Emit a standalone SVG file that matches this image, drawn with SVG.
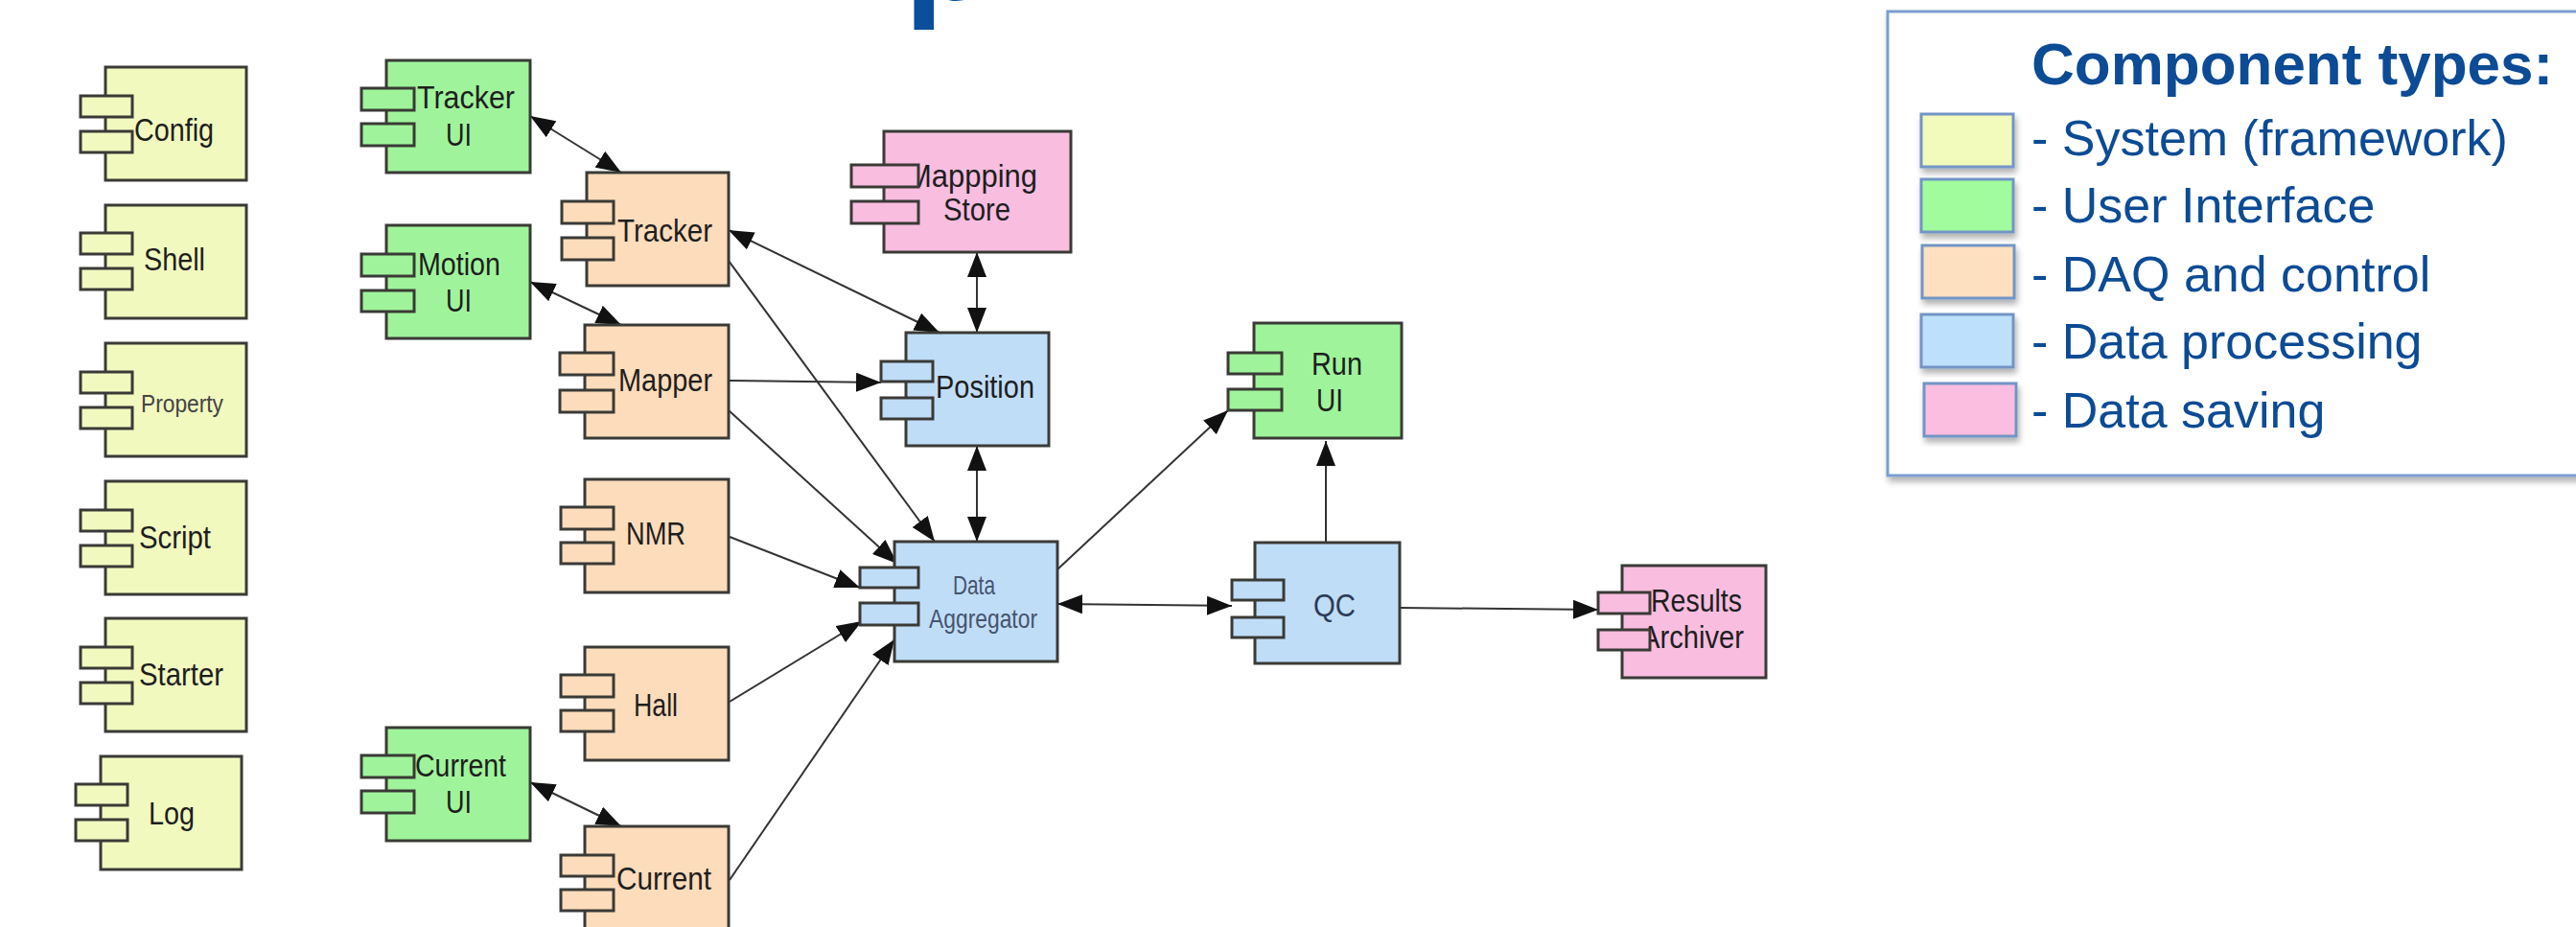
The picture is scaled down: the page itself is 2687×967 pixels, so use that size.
<svg xmlns="http://www.w3.org/2000/svg" width="2687" height="967" viewBox="0 0 2687 967">
<style>
.sys{fill:#f1f9bf}.ui{fill:#9ff49b}.daq{fill:#fcdcbb}.proc{fill:#c0ddf8}.save{fill:#f8bddf}
.b{stroke:#3a3a36;stroke-width:3}
.lbl{font-family:"Liberation Sans",Arial,sans-serif;font-size:34px;fill:#1e1e1e}
.con{stroke:#333;stroke-width:2;fill:none;marker-end:url(#ah)}
.bi{marker-start:url(#ah)}
.leg{font-family:"Liberation Sans",Arial,sans-serif;fill:#0c4b95}
.sw{stroke:#7295c6;stroke-width:3}
</style>
<defs>
<marker id="ah" viewBox="0 0 26 20" refX="26" refY="10" markerWidth="26" markerHeight="20" markerUnits="userSpaceOnUse" orient="auto-start-reverse">
<path d="M0,0 L26,10 L0,20 z" fill="#111"/>
</marker>
<filter id="sh" x="-5%" y="-5%" width="115%" height="125%">
<feDropShadow dx="2" dy="5" stdDeviation="3" flood-color="#000" flood-opacity="0.3"/>
</filter>
</defs>
<rect width="2687" height="967" fill="#fff"/>
<text id="title" x="943" y="0" font-family="Liberation Sans,Arial,sans-serif" font-weight="bold" font-size="150" fill="#0b4f9c">p</text>

<g id="connectors">
<line class="con bi" x1="553" y1="121" x2="648" y2="180"/>
<line class="con bi" x1="553" y1="294" x2="648" y2="339"/>
<line class="con bi" x1="553" y1="816" x2="648" y2="862"/>
<line class="con bi" x1="760" y1="240" x2="980" y2="347"/>
<line class="con" x1="760" y1="272" x2="975" y2="565"/>
<line class="con" x1="760" y1="397" x2="919" y2="399"/>
<line class="con" x1="760" y1="428" x2="936" y2="588"/>
<line class="con bi" x1="1019" y1="263" x2="1019" y2="347"/>
<line class="con bi" x1="1019" y1="465" x2="1019" y2="565"/>
<line class="con" x1="761" y1="560" x2="897" y2="613"/>
<line class="con" x1="761" y1="732" x2="899" y2="648"/>
<line class="con" x1="761" y1="918" x2="933" y2="667"/>
<line class="con" x1="1103" y1="594" x2="1281" y2="428"/>
<line class="con bi" x1="1103" y1="630" x2="1285" y2="632"/>
<line class="con" x1="1383" y1="568" x2="1383" y2="460"/>
<line class="con" x1="1460" y1="634" x2="1667" y2="636"/>
</g>

<g id="config"><rect class="sys b" x="110" y="70" width="147" height="118"/><text class="lbl" x="140" y="147" textLength="83" lengthAdjust="spacingAndGlyphs">Config</text><rect class="sys b" x="84" y="100" width="54" height="22"/><rect class="sys b" x="84" y="137" width="54" height="22"/></g>
<g id="shell"><rect class="sys b" x="110" y="214" width="147" height="118"/><text class="lbl" x="150" y="282" textLength="64" lengthAdjust="spacingAndGlyphs">Shell</text><rect class="sys b" x="84" y="243" width="54" height="22"/><rect class="sys b" x="84" y="280" width="54" height="22"/></g>
<g id="property"><rect class="sys b" x="110" y="358" width="147" height="118"/><text class="lbl" x="147" y="430" style="font-size:26px;fill:#444" textLength="86" lengthAdjust="spacingAndGlyphs">Property</text><rect class="sys b" x="84" y="388" width="54" height="22"/><rect class="sys b" x="84" y="425" width="54" height="22"/></g>
<g id="script"><rect class="sys b" x="110" y="502" width="147" height="118"/><text class="lbl" x="145" y="572" textLength="75" lengthAdjust="spacingAndGlyphs">Script</text><rect class="sys b" x="84" y="532" width="54" height="22"/><rect class="sys b" x="84" y="569" width="54" height="22"/></g>
<g id="starter"><rect class="sys b" x="110" y="645" width="147" height="118"/><text class="lbl" x="145" y="715" textLength="88" lengthAdjust="spacingAndGlyphs">Starter</text><rect class="sys b" x="84" y="675" width="54" height="22"/><rect class="sys b" x="84" y="712" width="54" height="22"/></g>
<g id="log"><rect class="sys b" x="105" y="789" width="147" height="118"/><text class="lbl" x="155" y="860" textLength="48" lengthAdjust="spacingAndGlyphs">Log</text><rect class="sys b" x="79" y="818" width="54" height="22"/><rect class="sys b" x="79" y="855" width="54" height="22"/></g>

<g id="tracker-ui"><rect class="ui b" x="403" y="63" width="150" height="117"/><text class="lbl" x="435" y="113" textLength="102" lengthAdjust="spacingAndGlyphs">Tracker</text><text class="lbl" x="465" y="152" textLength="27" lengthAdjust="spacingAndGlyphs">UI</text><rect class="ui b" x="377" y="92" width="55" height="23"/><rect class="ui b" x="377" y="129" width="55" height="23"/></g>
<g id="motion-ui"><rect class="ui b" x="403" y="235" width="150" height="118"/><text class="lbl" x="436" y="287" textLength="86" lengthAdjust="spacingAndGlyphs">Motion</text><text class="lbl" x="465" y="325" textLength="27" lengthAdjust="spacingAndGlyphs">UI</text><rect class="ui b" x="377" y="265" width="55" height="23"/><rect class="ui b" x="377" y="303" width="55" height="22"/></g>
<g id="current-ui"><rect class="ui b" x="403" y="759" width="150" height="118"/><text class="lbl" x="433" y="810" textLength="95" lengthAdjust="spacingAndGlyphs">Current</text><text class="lbl" x="465" y="848" textLength="27" lengthAdjust="spacingAndGlyphs">UI</text><rect class="ui b" x="377" y="788" width="55" height="23"/><rect class="ui b" x="377" y="825" width="55" height="23"/></g>

<g id="tracker"><rect class="daq b" x="612" y="180" width="148" height="118"/><text class="lbl" x="644" y="252" textLength="99" lengthAdjust="spacingAndGlyphs">Tracker</text><rect class="daq b" x="586" y="210" width="54" height="23"/><rect class="daq b" x="586" y="248" width="54" height="23"/></g>
<g id="mapper"><rect class="daq b" x="610" y="339" width="150" height="118"/><text class="lbl" x="645" y="408" textLength="98" lengthAdjust="spacingAndGlyphs">Mapper</text><rect class="daq b" x="584" y="368" width="56" height="23"/><rect class="daq b" x="584" y="407" width="56" height="23"/></g>
<g id="nmr"><rect class="daq b" x="610" y="500" width="150" height="118"/><text class="lbl" x="653" y="568" textLength="62" lengthAdjust="spacingAndGlyphs">NMR</text><rect class="daq b" x="585" y="529" width="55" height="23"/><rect class="daq b" x="585" y="566" width="55" height="22"/></g>
<g id="hall"><rect class="daq b" x="610" y="675" width="150" height="118"/><text class="lbl" x="661" y="747" textLength="46" lengthAdjust="spacingAndGlyphs">Hall</text><rect class="daq b" x="585" y="704" width="55" height="23"/><rect class="daq b" x="585" y="741" width="55" height="22"/></g>
<g id="current"><rect class="daq b" x="610" y="862" width="150" height="118"/><text class="lbl" x="643" y="928" textLength="99" lengthAdjust="spacingAndGlyphs">Current</text><rect class="daq b" x="585" y="892" width="55" height="22"/><rect class="daq b" x="585" y="928" width="55" height="22"/></g>

<g id="mapping-store"><rect class="save b" x="922" y="137" width="195" height="126"/><text class="lbl" x="946" y="195" textLength="136" lengthAdjust="spacingAndGlyphs">Mappping</text><text class="lbl" x="984" y="230" textLength="70" lengthAdjust="spacingAndGlyphs">Store</text><rect class="save b" x="888" y="172" width="70" height="23"/><rect class="save b" x="888" y="210" width="70" height="23"/></g>
<g id="position"><rect class="proc b" x="945" y="347" width="149" height="118"/><text class="lbl" x="976" y="415" textLength="103" lengthAdjust="spacingAndGlyphs">Position</text><rect class="proc b" x="919" y="377" width="54" height="21"/><rect class="proc b" x="919" y="415" width="54" height="22"/></g>
<g id="data-aggregator"><rect class="proc b" x="933" y="565" width="170" height="125"/><text class="lbl" x="994" y="620" style="font-size:28px;fill:#46546e" textLength="44" lengthAdjust="spacingAndGlyphs">Data</text><text class="lbl" x="969" y="655" style="font-size:28px;fill:#46546e" textLength="113" lengthAdjust="spacingAndGlyphs">Aggregator</text><rect class="proc b" x="897" y="592" width="61" height="21"/><rect class="proc b" x="897" y="629" width="61" height="23"/></g>
<g id="run-ui"><rect class="ui b" x="1308" y="337" width="154" height="120"/><text class="lbl" x="1368" y="391" textLength="53" lengthAdjust="spacingAndGlyphs">Run</text><text class="lbl" x="1373" y="429" textLength="28" lengthAdjust="spacingAndGlyphs">UI</text><rect class="ui b" x="1281" y="368" width="56" height="22"/><rect class="ui b" x="1281" y="406" width="56" height="22"/></g>
<g id="qc"><rect class="proc b" x="1309" y="566" width="151" height="126"/><text class="lbl" x="1370" y="643" style="fill:#2c3b58" textLength="44" lengthAdjust="spacingAndGlyphs">QC</text><rect class="proc b" x="1285" y="605" width="54" height="21"/><rect class="proc b" x="1285" y="644" width="54" height="21"/></g>
<g id="results-archiver"><rect class="save b" x="1692" y="590" width="150" height="117"/><text class="lbl" x="1722" y="638" textLength="95" lengthAdjust="spacingAndGlyphs">Results</text><text class="lbl" x="1712" y="676" textLength="107" lengthAdjust="spacingAndGlyphs">Archiver</text><rect class="save b" x="1667" y="618" width="54" height="22"/><rect class="save b" x="1667" y="657" width="54" height="21"/></g>

<g id="legend">
<rect x="1969" y="12" width="760" height="484" fill="#fff" stroke="#7a9ed0" stroke-width="3" filter="url(#sh)"/>
<text class="leg" x="2119" y="88" font-size="62" font-weight="bold">Component types:</text>
<rect class="sw" x="2004" y="119" width="96" height="55" fill="#f2fbbb" filter="url(#sh)"/>
<rect class="sw" x="2004" y="187" width="96" height="55" fill="#a0fc9c" filter="url(#sh)"/>
<rect class="sw" x="2005" y="256" width="96" height="55" fill="#fde0c0" filter="url(#sh)"/>
<rect class="sw" x="2004" y="328" width="96" height="55" fill="#bde0fd" filter="url(#sh)"/>
<rect class="sw" x="2007" y="400" width="96" height="55" fill="#fbbee0" filter="url(#sh)"/>
<text class="leg" x="2119" y="162" font-size="52">- System (framework)</text>
<text class="leg" x="2119" y="232" font-size="52">- User Interface</text>
<text class="leg" x="2119" y="304" font-size="52">- DAQ and control</text>
<text class="leg" x="2119" y="374" font-size="52">- Data processing</text>
<text class="leg" x="2119" y="446" font-size="52">- Data saving</text>
</g>
</svg>
